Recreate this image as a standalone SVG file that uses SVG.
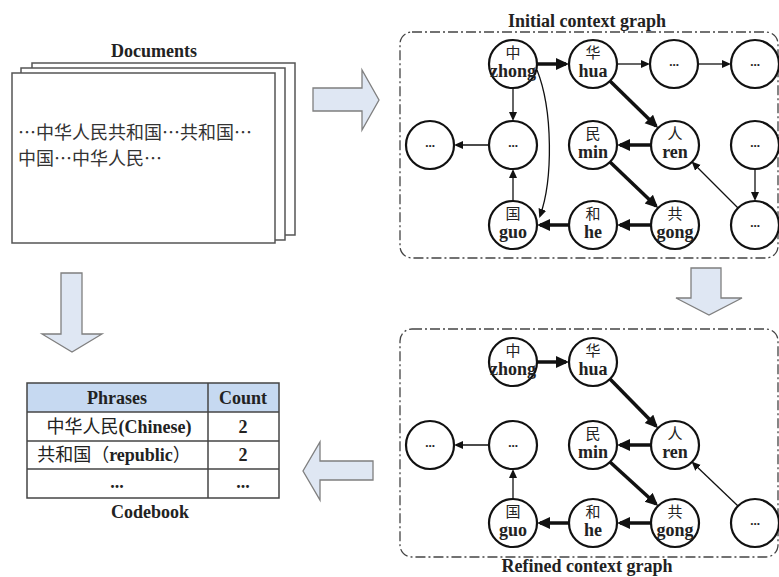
<svg xmlns="http://www.w3.org/2000/svg" width="779" height="577" viewBox="0 0 779 577">
<style>
.bg{fill:#fff}
.title{font-family:"Liberation Serif",serif;font-weight:bold;font-size:18px;fill:#222;text-anchor:middle}
.doc{fill:#fff;stroke:#555;stroke-width:1.5}
.doctxt{font-family:"Noto Sans CJK SC",sans-serif;font-size:18px;fill:#333}
.bigarrow{fill:#dfe7f3;stroke:#7f7f7f;stroke-width:1.3}
.frame{fill:none;stroke:#444;stroke-width:1.3;stroke-dasharray:10 3 2 3}
.node circle{fill:#fff;stroke:#111;stroke-width:2.2}
.zh{font-family:"Noto Sans CJK SC",sans-serif;font-size:15px;fill:#222;text-anchor:middle}
.py{font-family:"Liberation Serif",serif;font-weight:bold;font-size:18px;fill:#222;text-anchor:middle}
.dots{font-family:"Liberation Serif",serif;font-weight:bold;font-size:13px;fill:#222;text-anchor:middle}
.thick{stroke:#111;stroke-width:3.5;fill:none;marker-end:url(#ah)}
.thin{stroke:#111;stroke-width:1.3;fill:none;marker-end:url(#at)}
.tb{stroke:#444;stroke-width:1.5;fill:none}
.th{fill:#c6d9f1}
.tt{font-family:"Liberation Serif",serif;font-weight:bold;font-size:18px;fill:#222;text-anchor:middle}
.tz{font-family:"Noto Sans CJK SC",sans-serif;font-weight:normal}
</style>
<defs>
<marker id="ah" markerUnits="userSpaceOnUse" markerWidth="14" markerHeight="14" refX="10" refY="6" orient="auto"><path d="M0,0 L13,6 L0,12 z" fill="#111"/></marker>
<marker id="at" markerUnits="userSpaceOnUse" markerWidth="10" markerHeight="10" refX="7" refY="4" orient="auto"><path d="M0,0 L9,4 L0,8 z" fill="#111"/></marker>
</defs>
<rect class="bg" x="0" y="0" width="779" height="577"/>

<g id="documents">
<text class="title" x="154" y="57">Documents</text>
<rect class="doc" x="32" y="63" width="263" height="172"/>
<rect class="doc" x="21" y="68" width="264" height="172"/>
<rect class="doc" x="12" y="73" width="263" height="170"/>
<text class="doctxt" x="18" y="139">…中华人民共和国…共和国…</text>
<text class="doctxt" x="18" y="165">中国…中华人民…</text>
</g>

<g id="big-arrows">
<polygon class="bigarrow" points="313,88 362,88 362,70 379,100 362,130 362,111 313,111"/>
<polygon class="bigarrow" points="691,268 721,268 721,298 742,298 709,315 676,298 691,298"/>
<polygon class="bigarrow" points="61,273 82,273 82,334 102,334 72,352 42,334 61,334"/>
<polygon class="bigarrow" points="373,461 373,480 320,480 320,500 303,471 320,442 320,461"/>
</g>

<g id="initial-graph">
<rect class="frame" x="400" y="32" width="378" height="226" rx="12"/>
<text class="title" x="587" y="27">Initial context graph</text>
</g>

<g id="refined-graph">
<rect class="frame" x="400" y="329" width="378" height="228" rx="12"/>
<text class="title" x="587" y="572">Refined context graph</text>
</g>

<g id="connectors">
<line class="thick" x1="537" y1="64" x2="566" y2="64"/>
<line class="thin" x1="617" y1="64" x2="648" y2="64"/>
<line class="thin" x1="698" y1="64" x2="729" y2="64"/>
<line class="thin" x1="513" y1="88" x2="513" y2="119"/>
<line class="thin" x1="489" y1="145" x2="456" y2="145"/>
<line class="thin" x1="513" y1="201" x2="513" y2="171"/>
<path class="thin" d="M537,70 C553,110 553,180 540,216"/>
<line class="thick" x1="610" y1="81" x2="656" y2="126"/>
<line class="thick" x1="651" y1="145" x2="620" y2="145"/>
<line class="thick" x1="610" y1="162" x2="656" y2="206"/>
<line class="thick" x1="651" y1="225" x2="620" y2="225"/>
<line class="thick" x1="569" y1="225" x2="540" y2="225"/>
<line class="thin" x1="738" y1="208" x2="693" y2="163"/>
<line class="thin" x1="755" y1="169" x2="755" y2="199"/>
<line class="thick" x1="537" y1="362" x2="566" y2="362"/>
<line class="thick" x1="610" y1="379" x2="656" y2="426"/>
<line class="thick" x1="651" y1="445" x2="620" y2="445"/>
<line class="thick" x1="610" y1="462" x2="656" y2="504"/>
<line class="thick" x1="651" y1="523" x2="620" y2="523"/>
<line class="thick" x1="569" y1="523" x2="540" y2="523"/>
<line class="thin" x1="513" y1="499" x2="513" y2="471"/>
<line class="thin" x1="489" y1="445" x2="456" y2="445"/>
<line class="thin" x1="738" y1="506" x2="693" y2="463"/>
</g>

<g id="i-zhong" class="node"><circle cx="513" cy="64" r="24"/><text class="zh" x="513" y="58">中</text><text class="py" x="513" y="77">zhong</text></g>
<g id="i-hua" class="node"><circle cx="593" cy="64" r="24"/><text class="zh" x="593" y="58">华</text><text class="py" x="593" y="77">hua</text></g>
<g id="i-e1" class="node"><circle cx="674" cy="64" r="24"/><text class="dots" x="674" y="66">...</text></g>
<g id="i-e2" class="node"><circle cx="755" cy="64" r="24"/><text class="dots" x="755" y="66">...</text></g>
<g id="i-e3" class="node"><circle cx="430" cy="145" r="24"/><text class="dots" x="430" y="147">...</text></g>
<g id="i-e4" class="node"><circle cx="513" cy="145" r="24"/><text class="dots" x="513" y="147">...</text></g>
<g id="i-min" class="node"><circle cx="593" cy="145" r="24"/><text class="zh" x="593" y="139">民</text><text class="py" x="593" y="158">min</text></g>
<g id="i-ren" class="node"><circle cx="675" cy="145" r="24"/><text class="zh" x="675" y="139">人</text><text class="py" x="675" y="158">ren</text></g>
<g id="i-e5" class="node"><circle cx="755" cy="145" r="24"/><text class="dots" x="755" y="147">...</text></g>
<g id="i-guo" class="node"><circle cx="513" cy="225" r="24"/><text class="zh" x="513" y="219">国</text><text class="py" x="513" y="238">guo</text></g>
<g id="i-he" class="node"><circle cx="593" cy="225" r="24"/><text class="zh" x="593" y="219">和</text><text class="py" x="593" y="238">he</text></g>
<g id="i-gong" class="node"><circle cx="675" cy="225" r="24"/><text class="zh" x="675" y="219">共</text><text class="py" x="675" y="238">gong</text></g>
<g id="i-e6" class="node"><circle cx="755" cy="225" r="24"/><text class="dots" x="755" y="227">...</text></g>

<g id="r-zhong" class="node"><circle cx="513" cy="362" r="24"/><text class="zh" x="513" y="356">中</text><text class="py" x="513" y="375">zhong</text></g>
<g id="r-hua" class="node"><circle cx="593" cy="362" r="24"/><text class="zh" x="593" y="356">华</text><text class="py" x="593" y="375">hua</text></g>
<g id="r-e1" class="node"><circle cx="430" cy="445" r="24"/><text class="dots" x="430" y="447">...</text></g>
<g id="r-e2" class="node"><circle cx="513" cy="445" r="24"/><text class="dots" x="513" y="447">...</text></g>
<g id="r-min" class="node"><circle cx="593" cy="445" r="24"/><text class="zh" x="593" y="439">民</text><text class="py" x="593" y="458">min</text></g>
<g id="r-ren" class="node"><circle cx="675" cy="445" r="24"/><text class="zh" x="675" y="439">人</text><text class="py" x="675" y="458">ren</text></g>
<g id="r-guo" class="node"><circle cx="513" cy="523" r="24"/><text class="zh" x="513" y="517">国</text><text class="py" x="513" y="536">guo</text></g>
<g id="r-he" class="node"><circle cx="593" cy="523" r="24"/><text class="zh" x="593" y="517">和</text><text class="py" x="593" y="536">he</text></g>
<g id="r-gong" class="node"><circle cx="675" cy="523" r="24"/><text class="zh" x="675" y="517">共</text><text class="py" x="675" y="536">gong</text></g>
<g id="r-e3" class="node"><circle cx="755" cy="523" r="24"/><text class="dots" x="755" y="525">...</text></g>

<g id="codebook">
<rect class="th" x="27" y="383" width="252" height="29"/>
<rect class="tb" x="27" y="383" width="252" height="115"/>
<line class="tb" x1="27" y1="412" x2="279" y2="412"/>
<line class="tb" x1="27" y1="441" x2="279" y2="441"/>
<line class="tb" x1="27" y1="469" x2="279" y2="469"/>
<line class="tb" x1="208" y1="383" x2="208" y2="498"/>
<text class="tt" x="117" y="404">Phrases</text>
<text class="tt" x="243" y="404">Count</text>
<text class="tt" x="119" y="433"><tspan class="tz">中华人民</tspan>(Chinese)</text>
<text class="tt" x="243" y="433">2</text>
<text class="tt" x="114" y="461"><tspan class="tz">共和国（</tspan>republic<tspan class="tz">）</tspan></text>
<text class="tt" x="243" y="461">2</text>
<text class="tt" x="117" y="488">...</text>
<text class="tt" x="243" y="488">...</text>
<text class="title" x="150" y="518">Codebook</text>
</g>
</svg>
